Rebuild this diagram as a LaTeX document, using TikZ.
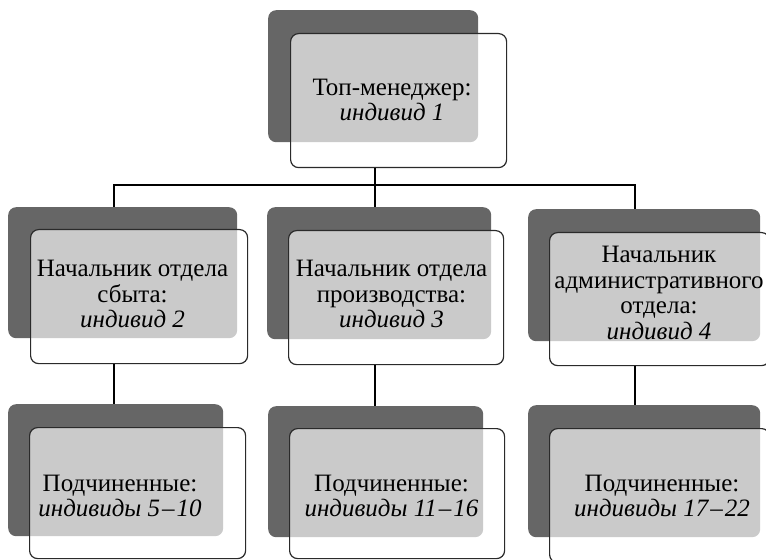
\documentclass[tikz,border=0pt]{standalone}
\usepackage{fontspec}
\setmainfont{Liberation Serif}
\newfontfamily\tnr{Liberation Serif}
\definecolor{darkfill}{HTML}{666666}
\definecolor{edgecol}{HTML}{2A2A2A}
\newcommand{\rdash}{\kern2bp–\kern2bp}
\begin{document}
\begin{tikzpicture}[x=1bp,y=-1bp,
  darkbox/.style={draw=none, fill=darkfill, rounded corners=8bp, inner sep=0pt, anchor=north west},
  whitebox/.style={draw=edgecol, line width=1.2bp, fill=white, fill opacity=0.66, rounded corners=8bp, inner sep=0pt, anchor=north west},
  txt/.style={align=center, inner sep=0pt, text=black, font=\tnr\fontsize{25bp}{25.5bp}\selectfont},
  conn/.style={draw=black, line width=1.8bp}]
\useasboundingbox (0,0) rectangle (766,560);
\clip (0,0) rectangle (766,560);
% bus coordinates
\coordinate (bL) at (114,185);
\coordinate (bM) at (375,185);
\coordinate (bR) at (635,185);
% dark boxes
\node[darkbox, minimum width=210bp, minimum height=132bp] (d1) at (268,10) {};
\node[darkbox, minimum width=229bp, minimum height=131bp] (d2) at (8,207) {};
\node[darkbox, minimum width=224bp, minimum height=132bp] (d3) at (267,207) {};
\node[darkbox, minimum width=232bp, minimum height=132bp] (d4) at (528,209) {};
\node[darkbox, minimum width=215bp, minimum height=132bp] (d5) at (8,404) {};
\node[darkbox, minimum width=215bp, minimum height=131bp] (d6) at (268,406) {};
\node[darkbox, minimum width=232bp, minimum height=132bp] (d7) at (528,405) {};
% white boxes
\node[whitebox, minimum width=216bp, minimum height=134bp] (w1) at (290,33) {};
\node[whitebox, minimum width=217bp, minimum height=134bp] (w2) at (30,229) {};
\node[whitebox, minimum width=215bp, minimum height=134bp] (w3) at (288,230) {};
\node[whitebox, minimum width=220bp, minimum height=133bp] (w4) at (549,232) {};
\node[whitebox, minimum width=216bp, minimum height=131bp] (w5) at (29,427) {};
\node[whitebox, minimum width=215bp, minimum height=130bp] (w6) at (289,428) {};
\node[whitebox, minimum width=220bp, minimum height=134bp] (w7) at (549,428) {};
% connectors
\draw[conn] (w1.south -| bM) -- (bM);
\draw[conn] (bL |- d2.north) -- (bL) -- (bR) -- (bR |- d4.north);
\draw[conn] (bM) -- (bM |- d3.north);
\draw[conn] (w2.south -| bL) -- (bL |- d5.north);
\draw[conn] (w3.south -| bM) -- (bM |- d6.north);
\draw[conn] (w4.south -| bR) -- (bR |- d7.north);
% texts
\node[txt] (t1) at (392,100) {Топ-менеджер:\\\textit{индивид 1}};
\node[txt] (t2) at (132.5,294) {Начальник отдела\\сбыта:\\\textit{индивид 2}};
\node[txt] (t3) at (391.5,294) {Начальник отдела\\производства:\\\textit{индивид 3}};
\node[txt] (t4) at (659,293) {Начальник\\административного\\отдела:\\\textit{индивид 4}};
\node[txt] (t5) at (120,496) {Подчиненные:\\\textit{индивиды 5\rdash10}};
\node[txt] (t6) at (391.5,496) {Подчиненные:\\\textit{индивиды 11\rdash16}};
\node[txt] (t7) at (662,496) {Подчиненные:\\\textit{индивиды 17\rdash22}};
\end{tikzpicture}
\end{document}
